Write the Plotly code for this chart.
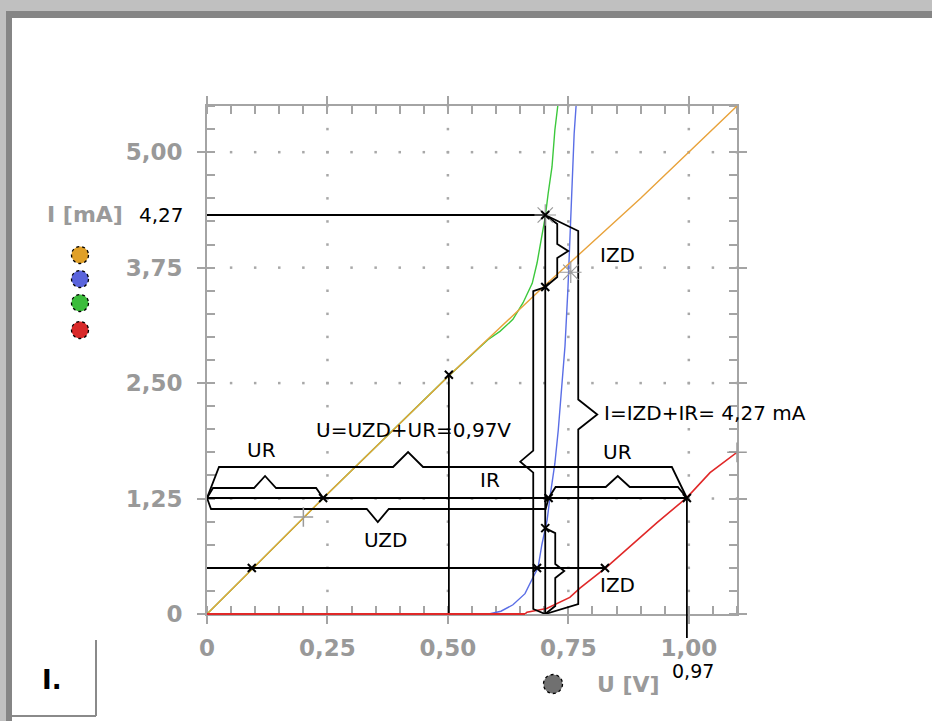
import plotly.graph_objects as go

# ---------------- data ----------------
# resistor R (orange), Zener diode ZD (blue), parallel ZD||R (green), series ZD+R (red)
orange_U = [0, 0.1, 0.25, 0.5, 0.7, 0.9, 1.1]
orange_I = [0, 0.52, 1.3, 2.57, 3.55, 4.5, 5.5]

blue_U = [0.585, 0.61, 0.635, 0.66, 0.677, 0.687, 0.695, 0.706, 0.712, 0.722,
          0.729, 0.737, 0.743, 0.749, 0.753, 0.757, 0.762, 0.766]
blue_I = [0, 0.03, 0.1, 0.22, 0.4, 0.5, 0.75, 1.02, 1.27, 1.63,
          1.99, 2.53, 2.9, 3.51, 4.08, 4.59, 5.2, 5.5]

green_U = [0, 0.1, 0.25, 0.5, 0.583, 0.608, 0.635, 0.656, 0.675, 0.685, 0.695, 0.702, 0.708, 0.716, 0.722, 0.728]
green_I = [0, 0.52, 1.3, 2.57, 2.97, 3.06, 3.19, 3.37, 3.58, 3.80, 4.08, 4.30, 4.55, 4.84, 5.24, 5.5]

red_U = [0, 0.66, 0.664, 0.705, 0.753, 0.774, 0.83, 0.878, 0.934, 0.996, 1.044, 1.1]
red_I = [0, 0, 0.02, 0.06, 0.18, 0.28, 0.51, 0.73, 0.99, 1.26, 1.53, 1.75]

# construction values
I_par = 4.32      # total current of the parallel circuit (labelled 4,27)
U_par = 0.702
IR_par = 3.54
IZD_par = 0.93
I_ser = 1.256     # current of the series circuit
UR_ser = 0.241
UZD_ser = 0.709
U_ser = 0.996     # (labelled 0,97)
I_cur = 0.498
U_cur = [0.093, 0.685, 0.826]
U_vert = 0.502
I_vert = 2.59
cursor_U = [0.2, 0.755, 1.1]
cursor_I = [1.05, 3.70, 1.75]

x_tickvals = [0, 0.25, 0.5, 0.75, 1.0]
x_ticktext = ["0", "0,25", "0,50", "0,75", "1,00"]
y_tickvals = [0, 1.25, 2.5, 3.75, 5.0]
y_ticktext = ["0", "1,25", "2,50", "3,75", "5,00"]
X_MAX, Y_MAX = 1.1, 5.5

# ---------------- layout helpers ----------------
L, R, T, B = 207, 737, 106, 614
W, H = 932, 721
PXX = X_MAX / (R - L)
PXY = Y_MAX / (B - T)
def PX(px): return (px - L) / (R - L)
def PY(py): return (B - py) / (B - T)

def hbrace(x0, x1, y, off, bump, frac=0.5, w=11, s0=8, s1=8):
    yb = y + off * PXY
    xt = x0 + (x1 - x0) * frac
    return ([x0, x0 + s0 * PXX, xt - w * PXX, xt, xt + w * PXX, x1 - s1 * PXX, x1],
            [y, yb, yb, yb + bump * PXY, yb, yb, y])

def vbrace(y0, y1, x, off, bump, frac=0.5, w=7, s0=9, s1=9):
    xb = x + off * PXX
    yt = y0 + (y1 - y0) * frac
    return ([x, xb, xb, xb + bump * PXX, xb, xb, x],
            [y0, y0 - s0 * PXY, yt + w * PXY, yt, yt - w * PXY, y1 + s1 * PXY, y1])

fig = go.Figure()

# grid dots
minor_x = [round(0.05 * i, 2) for i in range(1, 23)]
minor_y = [round(0.25 * i, 2) for i in range(1, 23)]
gx, gy = [], []
for xv in x_tickvals[1:]:
    for yv in minor_y:
        gx.append(xv); gy.append(yv)
for yv in y_tickvals[1:]:
    for xv in minor_x:
        gx.append(xv); gy.append(yv)
fig.add_trace(go.Scatter(x=gx, y=gy, mode="markers",
                         marker=dict(symbol="square", size=2.5, color="#a8a8a8"),
                         hoverinfo="skip"))

# curves
fig.add_trace(go.Scatter(x=red_U, y=red_I, mode="lines", line=dict(color="#e02828", width=1.6)))
fig.add_trace(go.Scatter(x=green_U, y=green_I, mode="lines", line=dict(color="#3cc83c", width=1.4)))
fig.add_trace(go.Scatter(x=blue_U, y=blue_I, mode="lines", line=dict(color="#5a6ee6", width=1.4)))
fig.add_trace(go.Scatter(x=orange_U, y=orange_I, mode="lines", line=dict(color="#e8a23a", width=1.4)))

BL = dict(color="black", width=1.8)
def seg(xs, ys):
    fig.add_trace(go.Scatter(x=xs, y=ys, mode="lines", line=BL, hoverinfo="skip"))

# straight construction lines
seg([0, U_par], [I_par, I_par])
seg([U_par, U_par], [0, I_par])
seg([0, U_ser], [I_ser, I_ser])
seg([0, U_cur[2]], [I_cur, I_cur])
seg([U_vert, U_vert], [0, I_vert])

# braces
seg(*hbrace(0, U_ser, I_ser, 31, 15, frac=0.419, w=15, s0=12, s1=15))   # U = UZD+UR
seg(*hbrace(0, UR_ser, I_ser, 10, 12, w=11, s0=6, s1=7))                # UR
seg(*hbrace(0, UZD_ser, I_ser, -11, -13, w=11, s0=4, s1=3))             # UZD
seg(*hbrace(UZD_ser, U_ser, I_ser, 11, 11, w=12, s0=7, s1=9))           # UR right
seg(*vbrace(I_par, IR_par, U_par, 12, 11, w=7, s0=9, s1=10))            # IZD upper
seg(*vbrace(I_par, 0, U_par, 33, 19, w=15, s0=16, s1=10))               # I total
seg(*vbrace(IR_par, 0, U_par, -12, -13, frac=0.534, w=11, s0=4, s1=5))  # IR
seg(*vbrace(IZD_par, 0, U_par, 10, 9, w=7, s0=5, s1=8))                 # IZD lower

# gray cursor markers
fig.add_trace(go.Scatter(x=[U_par, cursor_U[1]], y=[I_par, cursor_I[1]], mode="markers",
                         marker=dict(symbol="asterisk", size=18, color="#9a9a9a",
                                     line=dict(color="#9a9a9a", width=1.2)),
                         hoverinfo="skip"))
fig.add_trace(go.Scatter(x=[cursor_U[0], cursor_U[2]], y=[cursor_I[0], cursor_I[2]], mode="markers",
                         marker=dict(symbol="cross-thin", size=14, color="#9a9a9a",
                                     line=dict(color="#9a9a9a", width=1.5)),
                         hoverinfo="skip", cliponaxis=False))

# black x markers
mx = [U_par, U_par, U_par, UR_ser, UZD_ser, U_ser] + U_cur + [U_vert]
my = [I_par, IR_par, IZD_par, I_ser, I_ser, I_ser] + [I_cur] * 3 + [I_vert]
fig.add_trace(go.Scatter(x=mx, y=my, mode="markers",
                         marker=dict(symbol="x-thin", size=8, color="black",
                                     line=dict(color="black", width=2)),
                         hoverinfo="skip"))

# ---------------- text ----------------
TF = dict(family="DejaVu Sans", size=20, color="black")
def lab(text, x, y, xanchor="center", ref="x", font=TF):
    fig.add_annotation(text=text, x=x, y=y, xref=("x" if ref == "x" else "paper"),
                       yref=("y" if ref == "x" else "paper"), showarrow=False,
                       xanchor=xanchor, yanchor="middle", font=font)

lab("UR", 0.114, 1.78)
lab("U=UZD+UR=0,97V", 0.4276, 1.99)
lab("UZD", 0.3695, 0.80)
lab("IR", 0.587, 1.45)
lab("UR", 0.851, 1.75)
lab("IZD", 0.851, 3.89)
lab("I=IZD+IR= 4,27 mA", 0.82, 2.18, xanchor="left")
lab("IZD", 0.851, 0.314)
lab("4,27", PX(161), PY(215), ref="paper")
lab("0,97", PX(693), PY(671), ref="paper", font=dict(TF, size=19))
GF = dict(family="DejaVu Sans", size=22, color="#9a9a9a", weight="bold")
lab("I [mA]", PX(85), PY(215), ref="paper", font=GF)
lab("U [V]", PX(628), PY(684), ref="paper", font=dict(GF, size=22))
lab("I.", PX(52), PY(680), ref="paper", font=dict(family="DejaVu Sans", size=26, color="black", weight="bold"))

# ---------------- decorations (frame, legend dots) ----------------
shapes = []
def rect(x0, y0, x1, y1, color):
    shapes.append(dict(type="rect", xref="paper", yref="paper", x0=PX(x0), x1=PX(x1),
                       y0=PY(y1), y1=PY(y0), fillcolor=color, line=dict(width=0), layer="below"))
rect(0, 0, W, 11, "#c0c0c0")
rect(0, 11, 6, H, "#c0c0c0")
rect(6, 11, W, 18, "#858585")
rect(6, 11, 12, H, "#858585")
for (x0, y0, x1, y1) in [(96, 640, 96, 716), (12, 716, 96, 716)]:
    shapes.append(dict(type="line", xref="paper", yref="paper", x0=PX(x0), x1=PX(x1),
                       y0=PY(y0), y1=PY(y1), line=dict(color="#8a8a8a", width=2)))
# red curve lying on the U axis (drawn over the axis line)
shapes.append(dict(type="line", xref="paper", yref="paper", x0=red_U[0] / X_MAX, x1=red_U[1] / X_MAX,
                   y0=red_I[0] / Y_MAX, y1=red_I[1] / Y_MAX, line=dict(color="#e02828", width=2)))
# vertical drop line of the series voltage below the axis
shapes.append(dict(type="line", xref="paper", yref="paper", x0=U_ser / X_MAX, x1=U_ser / X_MAX,
                   y0=I_ser / Y_MAX, y1=PY(638), line=dict(color="black", width=1.8)))
def dot(cx, cy, d, color):
    shapes.append(dict(type="circle", xref="paper", yref="paper",
                       x0=PX(cx - d / 2), x1=PX(cx + d / 2), y0=PY(cy + d / 2), y1=PY(cy - d / 2),
                       fillcolor=color, line=dict(color="black", width=1.3, dash="dot")))
for cy, col in zip([255, 279, 303, 330], ["#e0a028", "#5a64dc", "#3cbc3c", "#d82828"]):
    dot(80, cy, 17, col)
dot(553, 684, 19, "#707070")

AX = dict(showline=True, linecolor="#a4a4a4", linewidth=2, mirror="ticks",
          ticks="outside", ticklen=8, tickwidth=2, tickcolor="#a4a4a4",
          showgrid=False, zeroline=False, layer="below traces",
          tickfont=dict(family="DejaVu Sans", size=23, color="#999999", weight="bold"))

fig.update_layout(
    width=W, height=H, showlegend=False,
    margin=dict(l=L, r=W - R, t=T, b=H - B, pad=0),
    paper_bgcolor="white", plot_bgcolor="white",
    shapes=shapes,
    xaxis=dict(AX, range=[0, X_MAX], tickmode="array", tickvals=x_tickvals, ticktext=x_ticktext,
               ticklabelstandoff=4,
               minor=dict(tickmode="linear", tick0=0, dtick=0.05, ticks="inside", ticklen=8,
                          tickwidth=2, tickcolor="#a4a4a4", showgrid=False)),
    yaxis=dict(AX, range=[0, Y_MAX], tickmode="array", tickvals=y_tickvals, ticktext=y_ticktext,
               ticklabelstandoff=10,
               minor=dict(tickmode="linear", tick0=0, dtick=0.25, ticks="inside", ticklen=8,
                          tickwidth=2, tickcolor="#a4a4a4", showgrid=False)),
)

fig.write_html("out.html", config={"displayModeBar": False},
               post_script="document.body.style.margin='0';document.body.style.overflow='hidden';")
